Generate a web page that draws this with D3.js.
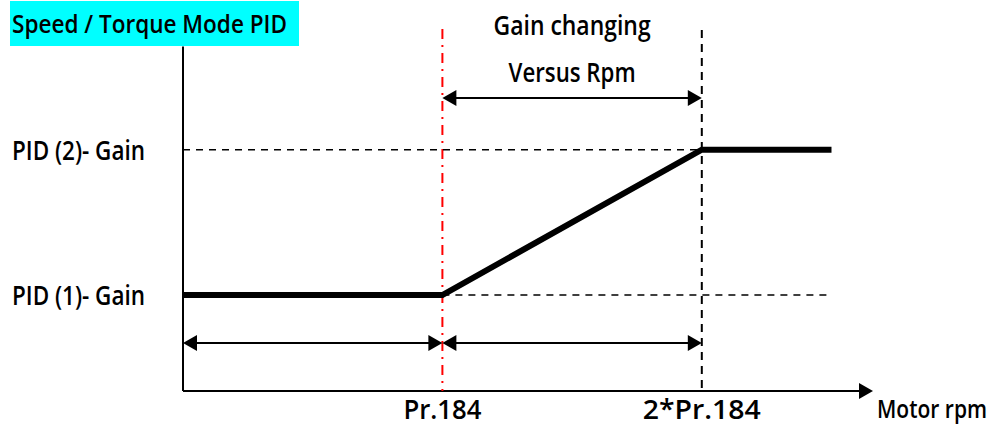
<!DOCTYPE html>
<html>
<head>
<meta charset="utf-8">
<script src="https://cdn.jsdelivr.net/npm/d3@7"></script>
<style>
  body { margin: 0; background: #fff; }
  text { font-family: "Open Sans", Roboto, sans-serif; font-weight: 600; fill: #000; }
</style>
</head>
<body>
<div id="chart"></div>
<script>
// gain curve (x in multiples of Pr.184, y in gain level)
var gainX = [0, 1, 2, 2.5]
var gainY = [1, 1, 2, 2]

var xTickVals = [1, 2]
var xTickLabels = ['Pr.184', '2*Pr.184']
var yTickVals = [1, 2]
var yTickLabels = ['PID (1)- Gain', 'PID (2)- Gain']

var title = 'Speed / Torque Mode PID'
var xTitle = 'Motor rpm'
var spanLabels = ['Gain changing', 'Versus Rpm']

var w = 993, h = 427

var svg = d3.select('#chart')
  .append('svg')
  .attr('width', w)
  .attr('height', h)

var x = d3.scaleLinear().domain([0, 2.66]).range([183, 873])
var y = d3.scaleLinear().domain([0.34, 2.71]).range([391, 46.5])

// squeeze text to look like the condensed font in the original
function fit(sel, len) {
  sel.attr('textLength', len).attr('lengthAdjust', 'spacingAndGlyphs')
}

// title box
svg.append('rect')
  .attr('x', 10).attr('y', 1)
  .attr('width', 289).attr('height', 45)
  .attr('fill', '#00ffff')

svg.append('text')
  .attr('x', 12).attr('y', 33)
  .style('font-size', '25px')
  .text(title)
  .call(fit, 275)

function arrowHead(g, tipX, tipY, dir) {
  // dir = 1 points right, -1 points left
  g.append('path')
    .attr('d', 'M' + tipX + ',' + tipY +
      'L' + (tipX - dir * 14) + ',' + (tipY - 8) +
      'L' + (tipX - dir * 14) + ',' + (tipY + 8) + 'Z')
    .attr('fill', '#000')
}

// axes
svg.append('line')
  .attr('x1', x(0)).attr('x2', x(0))
  .attr('y1', y(2.71)).attr('y2', y(0.34))
  .attr('stroke', '#000').attr('stroke-width', 2)

svg.append('line')
  .attr('x1', x(0)).attr('x2', x(2.66) - 10)
  .attr('y1', y(0.34)).attr('y2', y(0.34))
  .attr('stroke', '#000').attr('stroke-width', 2)
arrowHead(svg, x(2.66), y(0.34), 1)

// guide lines
svg.append('line')
  .attr('x1', x(1)).attr('x2', x(1))
  .attr('y1', 29).attr('y2', y(0.34))
  .attr('stroke', '#ff0000').attr('stroke-width', 2)
  .attr('stroke-dasharray', '10,6,2,6')

svg.append('line')
  .attr('x1', x(2)).attr('x2', x(2))
  .attr('y1', 30).attr('y2', y(0.34))
  .attr('stroke', '#000').attr('stroke-width', 2)
  .attr('stroke-dasharray', '8,6')

svg.append('line')
  .attr('x1', x(0)).attr('x2', x(2))
  .attr('y1', y(2)).attr('y2', y(2))
  .attr('stroke', '#000').attr('stroke-width', 1.5)
  .attr('stroke-dasharray', '7,6')

svg.append('line')
  .attr('x1', x(1)).attr('x2', x(2.5))
  .attr('y1', y(1)).attr('y2', y(1))
  .attr('stroke', '#000').attr('stroke-width', 1.5)
  .attr('stroke-dasharray', '7,6')

// gain curve
var line = d3.line()
  .x(function(d, i) { return x(gainX[i]) })
  .y(function(d, i) { return y(gainY[i]) })

svg.append('path')
  .datum(gainX)
  .attr('d', line)
  .attr('fill', 'none')
  .attr('stroke', '#000')
  .attr('stroke-width', 6)

// dimension arrows
function dimArrow(x1, x2, yy) {
  svg.append('line')
    .attr('x1', x1 + 10).attr('x2', x2 - 10)
    .attr('y1', yy).attr('y2', yy)
    .attr('stroke', '#000').attr('stroke-width', 2)
  arrowHead(svg, x1, yy, -1)
  arrowHead(svg, x2, yy, 1)
}
dimArrow(x(1), x(2), 98)
dimArrow(x(0), x(1), 343)
dimArrow(x(1), x(2), 343)

// labels
svg.append('text')
  .attr('x', (x(1) + x(2)) / 2).attr('y', 35)
  .attr('text-anchor', 'middle')
  .style('font-size', '27px')
  .text(spanLabels[0])
  .call(fit, 157)

svg.append('text')
  .attr('x', (x(1) + x(2)) / 2).attr('y', 82)
  .attr('text-anchor', 'middle')
  .style('font-size', '27px')
  .text(spanLabels[1])
  .call(fit, 127)

svg.selectAll('.ylab')
  .data(yTickVals)
  .enter().append('text')
  .attr('class', 'ylab')
  .attr('x', 12)
  .attr('y', function(d) { return y(d) + 10 })
  .style('font-size', '27px')
  .text(function(d, i) { return yTickLabels[i] })
  .call(fit, 133)

var xLabW = [78, 118]
svg.selectAll('.xlab')
  .data(xTickVals)
  .enter().append('text')
  .attr('class', 'xlab')
  .attr('x', function(d) { return x(d) })
  .attr('y', 419)
  .attr('text-anchor', 'middle')
  .style('font-size', '27px')
  .text(function(d, i) { return xTickLabels[i] })
  .each(function(d, i) { d3.select(this).call(fit, xLabW[i]) })

svg.append('text')
  .attr('x', 987).attr('y', 418)
  .attr('text-anchor', 'end')
  .style('font-size', '25px')
  .text(xTitle)
  .call(fit, 110)
</script>
</body>
</html>
